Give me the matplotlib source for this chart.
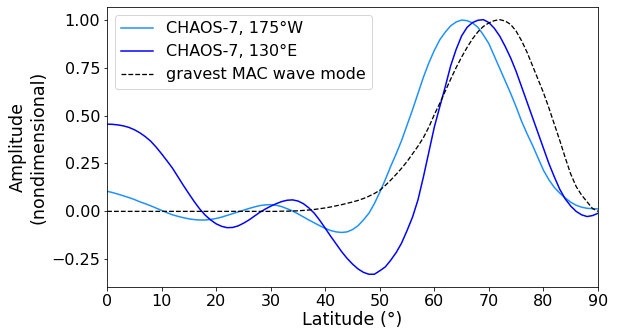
import numpy as np
import matplotlib
matplotlib.use("Agg")
import matplotlib.pyplot as plt

latitude = list(range(0, 91))

chaos_175w = [0.105, 0.098, 0.09, 0.081, 0.072, 0.062, 0.05, 0.04, 0.029, 0.017,
              0.005, -0.007, -0.018, -0.026, -0.033, -0.039, -0.043, -0.045, -0.045, -0.042,
              -0.037, -0.03, -0.021, -0.012, -0.003, 0.006, 0.015, 0.023, 0.03, 0.034,
              0.035, 0.032, 0.025, 0.014, 0.002, -0.013, -0.029, -0.045, -0.06, -0.075,
              -0.089, -0.1, -0.107, -0.11, -0.107, -0.095, -0.075, -0.045, -0.01, 0.04,
              0.10, 0.165, 0.235, 0.30, 0.37, 0.45, 0.53, 0.615, 0.70, 0.775,
              0.84, 0.895, 0.935, 0.968, 0.988, 0.998, 0.995, 0.983, 0.96, 0.92,
              0.875, 0.81, 0.745, 0.68, 0.615, 0.545, 0.47, 0.405, 0.345, 0.28,
              0.215, 0.165, 0.125, 0.095, 0.07, 0.048, 0.032, 0.022, 0.016, 0.014,
              0.013]

chaos_130e = [0.455, 0.454, 0.451, 0.446, 0.438, 0.426, 0.41, 0.39, 0.366, 0.335,
              0.30, 0.263, 0.225, 0.18, 0.135, 0.092, 0.05, 0.012, -0.02, -0.045,
              -0.065, -0.078, -0.085, -0.084, -0.076, -0.062, -0.045, -0.025, -0.005, 0.012,
              0.027, 0.04, 0.051, 0.058, 0.06, 0.054, 0.04, 0.018, -0.01, -0.047,
              -0.088, -0.13, -0.17, -0.21, -0.245, -0.275, -0.30, -0.318, -0.328, -0.328,
              -0.31, -0.29, -0.255, -0.215, -0.165, -0.10, -0.03, 0.06, 0.18, 0.31,
              0.44, 0.546, 0.65, 0.76, 0.845, 0.915, 0.96, 0.985, 0.997, 1.0,
              0.985, 0.955, 0.914, 0.86, 0.80, 0.73, 0.65, 0.57, 0.49, 0.41,
              0.33, 0.25, 0.18, 0.115, 0.065, 0.028, 0.0, -0.018, -0.027, -0.022,
              -0.01]

mac_mode = [0.0] * 32 + [0.001, 0.001, 0.002, 0.003, 0.005, 0.007, 0.01, 0.014,
            0.018, 0.023, 0.029, 0.035, 0.042, 0.049, 0.057, 0.067, 0.079, 0.093,
            0.11, 0.135, 0.163, 0.193, 0.225, 0.26, 0.30, 0.34, 0.385, 0.44,
            0.505, 0.564, 0.627, 0.69, 0.75, 0.805, 0.855, 0.9, 0.937, 0.965,
            0.983, 0.995, 1.0, 0.993, 0.975, 0.94, 0.89, 0.83, 0.76, 0.69,
            0.62, 0.54, 0.455, 0.37, 0.28, 0.195, 0.13, 0.085, 0.05, 0.015,
            0.0]

labels = ["CHAOS-7, 175°W", "CHAOS-7, 130°E", "gravest MAC wave mode"]

DPI = 72
plt.rcParams['font.size'] = 16
fig = plt.figure(figsize=(619 / DPI, 331 / DPI), dpi=DPI)
ax = fig.add_axes([0.173, 0.133, 0.793, 0.846])
ax.plot(latitude, chaos_175w, color='#1E90FF', lw=1.5, label=labels[0])
ax.plot(latitude, chaos_130e, color='blue', lw=1.5, label=labels[1])
ax.plot(latitude, mac_mode, color='black', lw=1.3, ls='--', label=labels[2])
ax.set_xlim(0, 90)
ax.set_yticks([-0.25, 0.0, 0.25, 0.5, 0.75, 1.0])
ax.tick_params(labelsize=16)
ax.set_xlabel("Latitude (°)", fontsize=17.5, labelpad=2)
ax.set_ylabel("Amplitude\n(nondimensional)", fontsize=17.5)
ax.legend(loc='upper left', fontsize=16)
fig.savefig("out.png", dpi=DPI)
